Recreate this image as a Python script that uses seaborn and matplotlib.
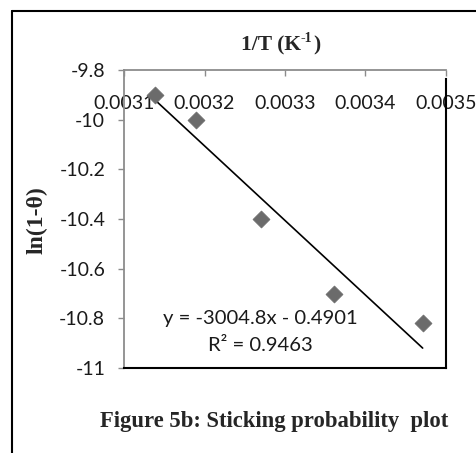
import matplotlib
matplotlib.use("Agg")
import matplotlib.pyplot as plt
import matplotlib.lines as mlines
import seaborn as sns
import numpy as np
import pandas as pd

# Inverse temperature (K^-1) and ln(1 - theta)
inv_T = [0.003139, 0.003190, 0.003270, 0.003361, 0.003471]
ln_one_minus_theta = [-9.90, -10.00, -10.40, -10.70, -10.82]

# Linear trendline reported on the chart
slope = -3004.8
intercept = -0.4901
r_squared = 0.9463

x_ticks = [0.0031, 0.0032, 0.0033, 0.0034, 0.0035]
y_ticks = [-9.8, -10.0, -10.2, -10.4, -10.6, -10.8, -11.0]
y_tick_labels = ["-9.8", "-10", "-10.2", "-10.4", "-10.6", "-10.8", "-11"]

sns.set_theme(style="white")
plt.rcParams["font.family"] = ["Lato", "DejaVu Sans"]

df = pd.DataFrame({"x": inv_T, "y": ln_one_minus_theta})
x_fit = np.array([min(inv_T), max(inv_T)])
fit_df = pd.DataFrame({"x": x_fit, "y": slope * x_fit + intercept})

fig = plt.figure(figsize=(4.77, 4.53), dpi=100)
ax = fig.add_axes([124 / 477, 1 - 368 / 453, (446 - 124) / 477, (368 - 70) / 453])

sns.lineplot(data=fit_df, x="x", y="y", ax=ax, color="black", linewidth=1.2, zorder=2)
sns.scatterplot(data=df, x="x", y="y", ax=ax, marker="D", s=75, color="#6b6b6b",
                edgecolor="#6b6b6b", linewidth=0.5, zorder=3)

ax.set_xlim(0.0031, 0.0035)
ax.set_ylim(-11.0, -9.8)
ax.set_xticks(x_ticks)
ax.set_xticklabels([f"{v:.4f}" for v in x_ticks])
ax.set_yticks(y_ticks)
ax.set_yticklabels(y_tick_labels)
ax.set_xlabel("")
ax.set_ylabel("")

# x axis sits at the top of the plot area with labels hanging inside
ax.xaxis.set_ticks_position("top")
ax.tick_params(axis="x", direction="in", length=4.5, width=1.0, color="#8c8c8c",
               labeltop=True, labelbottom=False, pad=-30, labelsize=14,
               labelcolor="#1a1a1a")
ax.tick_params(axis="y", direction="out", length=4.5, width=1.0, color="#8c8c8c",
               left=True, pad=9, labelsize=14, labelcolor="#1a1a1a")

for side in ("left", "top"):
    ax.spines[side].set_color("#8c8c8c")
    ax.spines[side].set_linewidth(1.3)
for side in ("right", "bottom"):
    ax.spines[side].set_color("black")
    ax.spines[side].set_linewidth(1.5)
ax.spines["right"].set_bounds(-11.0, -9.835)
ax.set_zorder(1)

# equation of the fitted line
ax.text(0.425, 0.165, f"y = {slope}x - {abs(intercept)}", transform=ax.transAxes,
        ha="center", va="center", fontsize=14.6, color="#1a1a1a")
ax.text(0.425, 0.075, f"R\u00b2 = {r_squared}", transform=ax.transAxes,
        ha="center", va="center", fontsize=14.6, color="#1a1a1a")

serif = ["Liberation Serif", "DejaVu Serif"]
fig.text(301 / 477, 1 - 45 / 453, "1/T (K", ha="right", va="center",
         fontsize=15.5, fontweight="bold", family=serif)
fig.text(301 / 477, 1 - 39 / 453, "-1", ha="left", va="center",
         fontsize=10, fontweight="bold", family=serif)
fig.text(313 / 477, 1 - 45 / 453, ")", ha="left", va="center",
         fontsize=15.5, fontweight="bold", family=serif)
fig.text(37 / 477, 1 - 220 / 453, "ln(1-\u03b8)", ha="center", va="center", rotation=90,
         fontsize=17, fontweight="bold", family=serif)
fig.text(274 / 477, 1 - 421 / 453, "Figure 5b: Sticking probability  plot", ha="center",
         va="center", fontsize=16.3, fontweight="bold", family=serif)

# outer frame (left and top edges)
fig.add_artist(mlines.Line2D([12 / 477, 12 / 477], [0, 1 - 11 / 453],
                             transform=fig.transFigure, color="black", linewidth=1.5))
fig.add_artist(mlines.Line2D([12 / 477, 1], [1 - 11 / 453, 1 - 11 / 453],
                             transform=fig.transFigure, color="black", linewidth=1.5))

fig.savefig("out.png", dpi=100, facecolor="white")
